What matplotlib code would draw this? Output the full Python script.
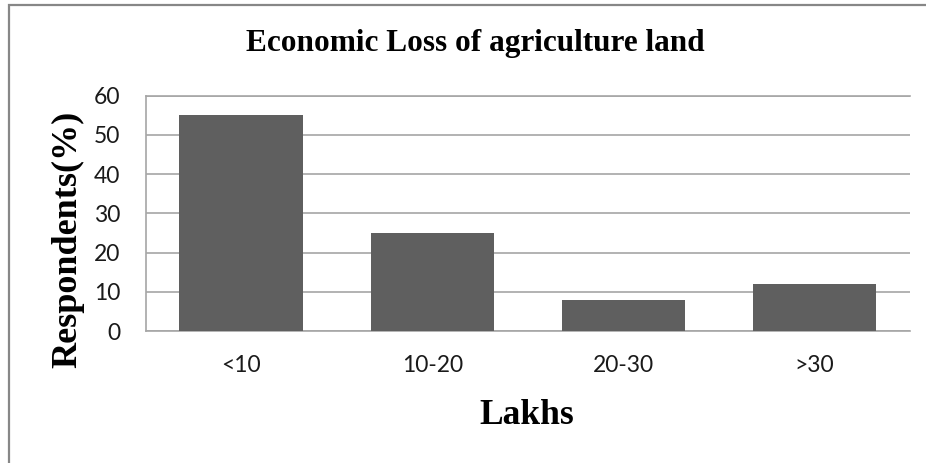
import matplotlib
matplotlib.use("Agg")
import matplotlib.pyplot as plt
from matplotlib.patches import Rectangle

categories = ["<10", "10-20", "20-30", ">30"]
respondents = [55, 25, 8, 12]
y_ticks = [0, 10, 20, 30, 40, 50, 60]

W, H = 926, 463
fig = plt.figure(figsize=(W / 100, H / 100), dpi=100)
fig.patch.set_facecolor("white")

# outer chart frame
fig.patches.append(Rectangle((9 / W, -0.05), 1.2, 1 - 5 / H + 0.05,
                             transform=fig.transFigure, fill=False,
                             edgecolor="#878787", linewidth=1.6))

left, right, top, bottom = 145.5, 910, 95.7, 331
ax = fig.add_axes([left / W, 1 - bottom / H, (right - left) / W, (bottom - top) / H])

grid_color = "#a6a6a6"
ax.bar(range(len(categories)), respondents, width=0.645, color="#5f5f5f",
       zorder=3)
ax.set_xlim(-0.5, len(categories) - 0.5)
ax.set_ylim(0, 60)
ax.set_yticks(y_ticks)
ax.yaxis.grid(True, color=grid_color, linewidth=1.2, zorder=0)
ax.set_xticks(range(len(categories)))
ax.set_xticklabels(categories)
for side in ["left", "right", "top", "bottom"]:
    ax.spines[side].set_color(grid_color)
    ax.spines[side].set_linewidth(1.2)
ax.spines["right"].set_visible(False)
ax.tick_params(axis="both", length=0, labelsize=16.5, colors="#1a1a1a",
               labelfontfamily="Lato")
ax.tick_params(axis="y", pad=18)
ax.tick_params(axis="x", pad=17)

fig.text(475 / W, 1 - 44 / H, "Economic Loss of agriculture land",
         ha="center", va="center", fontsize=22.5, fontweight="bold",
         family="Liberation Serif")
fig.text(68 / W, 1 - 239 / H, "Respondents(%)", ha="center", va="center",
         rotation=90, fontsize=26, fontweight="bold", family="Liberation Serif")
fig.text(526.5 / W, 1 - 416 / H, "Lakhs", ha="center", va="center",
         fontsize=25.5, fontweight="bold", family="Liberation Serif")

fig.savefig("out.png", dpi=100)
